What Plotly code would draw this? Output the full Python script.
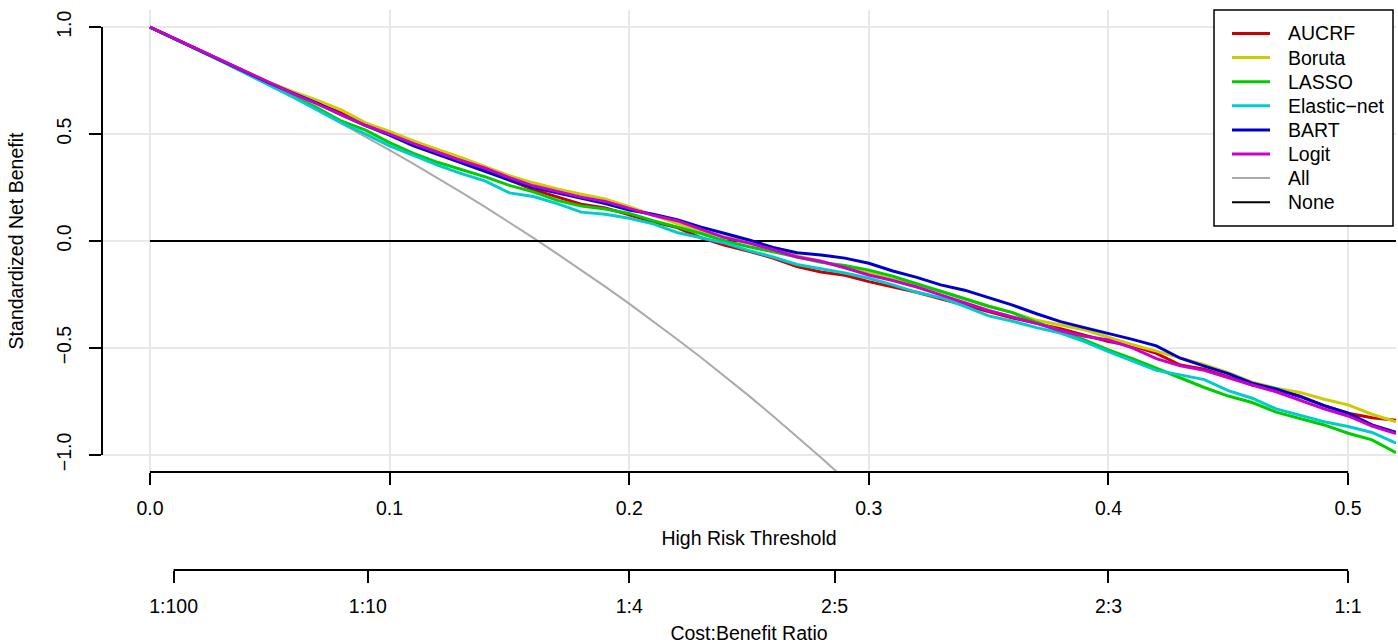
import plotly.graph_objects as go

thresholds = [0.00, 0.01, 0.02, 0.03, 0.04, 0.05, 0.06, 0.07, 0.08, 0.09,
              0.10, 0.11, 0.12, 0.13, 0.14, 0.15, 0.16, 0.17, 0.18, 0.19,
              0.20, 0.21, 0.22, 0.23, 0.24, 0.25, 0.26, 0.27, 0.28, 0.29,
              0.30, 0.31, 0.32, 0.33, 0.34, 0.35, 0.36, 0.37, 0.38, 0.39,
              0.40, 0.41, 0.42, 0.43, 0.44, 0.45, 0.46, 0.47, 0.48, 0.49,
              0.50, 0.51, 0.52]

aucrf = [1.000, 0.948, 0.895, 0.842, 0.789, 0.738, 0.690, 0.645, 0.598, 0.545,
         0.500, 0.460, 0.420, 0.380, 0.335, 0.285, 0.240, 0.205, 0.172, 0.155,
         0.122, 0.090, 0.063, 0.015, -0.020, -0.048, -0.080, -0.120, -0.145, -0.160,
         -0.190, -0.215, -0.240, -0.270, -0.300, -0.330, -0.360, -0.385, -0.410, -0.440,
         -0.470, -0.490, -0.525, -0.580, -0.600, -0.635, -0.673, -0.692, -0.725, -0.770,
         -0.805, -0.826, -0.838]

boruta = [1.000, 0.948, 0.895, 0.843, 0.791, 0.741, 0.697, 0.657, 0.612, 0.552,
          0.512, 0.468, 0.428, 0.390, 0.348, 0.305, 0.272, 0.243, 0.219, 0.197,
          0.160, 0.120, 0.082, 0.045, 0.020, -0.005, -0.030, -0.070, -0.095, -0.125,
          -0.150, -0.180, -0.205, -0.235, -0.270, -0.305, -0.335, -0.370, -0.393, -0.415,
          -0.450, -0.485, -0.515, -0.545, -0.578, -0.615, -0.660, -0.688, -0.708, -0.740,
          -0.766, -0.810, -0.845]

lasso = [1.000, 0.948, 0.895, 0.841, 0.786, 0.731, 0.676, 0.622, 0.560, 0.518,
         0.460, 0.410, 0.368, 0.335, 0.300, 0.260, 0.230, 0.190, 0.164, 0.150,
         0.129, 0.095, 0.065, 0.035, 0.000, -0.027, -0.050, -0.075, -0.100, -0.115,
         -0.136, -0.165, -0.200, -0.237, -0.270, -0.305, -0.335, -0.380, -0.420, -0.462,
         -0.509, -0.550, -0.595, -0.640, -0.685, -0.725, -0.755, -0.800, -0.830, -0.860,
         -0.899, -0.930, -0.990]

elastic_net = [1.000, 0.948, 0.894, 0.840, 0.784, 0.729, 0.671, 0.612, 0.552, 0.500,
               0.445, 0.400, 0.355, 0.315, 0.280, 0.225, 0.208, 0.175, 0.135, 0.125,
               0.106, 0.080, 0.040, 0.015, -0.010, -0.045, -0.075, -0.110, -0.130, -0.150,
               -0.174, -0.205, -0.240, -0.265, -0.305, -0.350, -0.375, -0.405, -0.430, -0.470,
               -0.517, -0.560, -0.605, -0.626, -0.648, -0.700, -0.735, -0.785, -0.815, -0.845,
               -0.867, -0.895, -0.945]

bart = [1.000, 0.948, 0.895, 0.842, 0.789, 0.738, 0.690, 0.643, 0.590, 0.540,
        0.495, 0.445, 0.405, 0.365, 0.325, 0.285, 0.250, 0.225, 0.200, 0.175,
        0.145, 0.125, 0.100, 0.065, 0.035, 0.005, -0.030, -0.055, -0.065, -0.080,
        -0.104, -0.140, -0.170, -0.205, -0.230, -0.265, -0.300, -0.340, -0.377, -0.405,
        -0.432, -0.460, -0.490, -0.548, -0.585, -0.620, -0.665, -0.692, -0.728, -0.770,
        -0.805, -0.860, -0.895]

logit = [1.000, 0.948, 0.895, 0.842, 0.789, 0.738, 0.688, 0.640, 0.589, 0.540,
         0.500, 0.455, 0.415, 0.375, 0.340, 0.296, 0.258, 0.230, 0.205, 0.185,
         0.153, 0.120, 0.095, 0.055, 0.015, -0.010, -0.040, -0.075, -0.095, -0.125,
         -0.159, -0.185, -0.215, -0.252, -0.290, -0.325, -0.355, -0.385, -0.420, -0.445,
         -0.463, -0.500, -0.550, -0.584, -0.605, -0.640, -0.673, -0.705, -0.745, -0.785,
         -0.818, -0.865, -0.900]

treat_all = [1.000, 0.948, 0.894, 0.840, 0.784, 0.728, 0.670, 0.611, 0.550, 0.488,
             0.425, 0.361, 0.295, 0.227, 0.158, 0.087, 0.015, -0.060, -0.136, -0.213,
             -0.293, -0.375, -0.459, -0.545, -0.634, -0.724, -0.818, -0.913, -1.012, -1.113]

treat_none = [0.0] * len(thresholds)

legend_names = ["AUCRF", "Boruta", "LASSO", "Elastic\u2212net", "BART", "Logit", "All", "None"]
legend_colors = ["#CC0000", "#CCCC00", "#00CC00", "#00CCCC", "#0000CC", "#CC00CC", "#AAAAAA", "#000000"]

x_ticks = [0.0, 0.1, 0.2, 0.3, 0.4, 0.5]
x_ticklabels = ["0.0", "0.1", "0.2", "0.3", "0.4", "0.5"]
y_ticks = [-1.0, -0.5, 0.0, 0.5, 1.0]
y_ticklabels = ["\u22121.0", "\u22120.5", "0.0", "0.5", "1.0"]
cb_ticks = [1 / 101, 1 / 11, 0.2, 2 / 7, 0.4, 0.5]
cb_ticklabels = ["1:100", "1:10", "1:4", "2:5", "2:3", "1:1"]

FONT = "Liberation Sans, Arial, Helvetica, sans-serif"
FS = 19.5

FIG_W, FIG_H = 1398, 644
PLOT_L, PLOT_R, PLOT_T, PAPER_B = 102, 1396, 10, 570   # page pixels
ML, MR, MT, MB = PLOT_L, FIG_W - PLOT_R, PLOT_T, FIG_H - PAPER_B
PW, PH = PLOT_R - PLOT_L, PAPER_B - PLOT_T
Y_DOM_BOTTOM = (PAPER_B - 472) / PH


def px(x):
    return (x - PLOT_L) / PW


def py(y):
    return (PAPER_B - y) / PH


fig = go.Figure()

fig.add_trace(go.Scatter(x=thresholds[:len(treat_all)], y=treat_all, mode="lines",
                         name="All", line=dict(color=legend_colors[6], width=2),
                         showlegend=False))
fig.add_trace(go.Scatter(x=thresholds, y=treat_none, mode="lines",
                         name="None", line=dict(color=legend_colors[7], width=2),
                         showlegend=False))

model_values = [aucrf, boruta, lasso, elastic_net, bart, logit]
for name, vals, color in zip(legend_names[:6], model_values, legend_colors[:6]):
    fig.add_trace(go.Scatter(x=thresholds, y=vals, mode="lines", name=name,
                             line=dict(color=color, width=3), showlegend=False))

# invisible trace so the cost:benefit axis gets drawn
fig.add_trace(go.Scatter(x=[0.0, 0.5], y=[-5, -5], xaxis="x2", mode="lines",
                         line=dict(color="rgba(0,0,0,0)"), showlegend=False,
                         hoverinfo="skip"))

x_range = [-0.02, 0.52]
y_range = [-1.08, 1.08]

shapes = [
    dict(type="line", xref="paper", yref="y", x0=0, x1=0, y0=-1, y1=1,
         line=dict(color="black", width=2)),
    dict(type="line", xref="x", yref="paper", x0=0, x1=0.5,
         y0=Y_DOM_BOTTOM, y1=Y_DOM_BOTTOM, line=dict(color="black", width=2)),
    dict(type="line", xref="x", yref="paper", x0=cb_ticks[0], x1=cb_ticks[-1],
         y0=0, y1=0, line=dict(color="black", width=2)),
    # legend box
    dict(type="rect", xref="paper", yref="paper", x0=px(1214), x1=px(1393),
         y0=py(226), y1=py(10), line=dict(color="black", width=1.5),
         fillcolor="white", layer="above"),
]
annotations = []
for i, (name, color) in enumerate(zip(legend_names, legend_colors)):
    yy = 33.5 + 24.1 * i
    shapes.append(dict(type="line", xref="paper", yref="paper",
                       x0=px(1232), x1=px(1270), y0=py(yy), y1=py(yy),
                       line=dict(color=color, width=3 if i < 6 else 2),
                       layer="above"))
    annotations.append(dict(text=name, xref="paper", yref="paper",
                            x=px(1286), y=py(yy), xanchor="left", yanchor="middle",
                            showarrow=False,
                            font=dict(family=FONT, size=FS, color="black")))

fig.update_layout(
    width=FIG_W, height=FIG_H,
    margin=dict(l=ML, r=MR, t=MT, b=MB, autoexpand=False),
    paper_bgcolor="white", plot_bgcolor="white",
    font=dict(family=FONT, size=FS, color="black"),
    showlegend=False,
    xaxis=dict(range=x_range, tickvals=x_ticks, ticktext=x_ticklabels,
               showgrid=True, gridcolor="#E8E8E8", gridwidth=1.5,
               zeroline=False, showline=False, ticks="outside", ticklen=12,
               tickwidth=1.5, tickcolor="black", ticklabelstandoff=7,
               anchor="y", automargin=False,
               title=dict(text="High Risk Threshold", standoff=12,
                          font=dict(family=FONT, size=FS))),
    xaxis2=dict(range=x_range, overlaying="x", anchor="free", position=0,
                side="bottom", tickvals=cb_ticks, ticktext=cb_ticklabels,
                showgrid=False, zeroline=False, showline=False,
                ticks="outside", ticklen=12, tickwidth=1.5, tickcolor="black",
                ticklabelstandoff=7, automargin=False,
                title=dict(text="Cost:Benefit Ratio", standoff=10,
                           font=dict(family=FONT, size=FS))),
    yaxis=dict(range=y_range, domain=[Y_DOM_BOTTOM, 1], tickvals=y_ticks,
               ticktext=y_ticklabels, tickangle=-90,
               showgrid=True, gridcolor="#E8E8E8", gridwidth=1.5,
               zeroline=False, showline=False, ticks="outside", ticklen=12,
               tickwidth=1.5, tickcolor="black", ticklabelstandoff=10,
               automargin=False,
               title=dict(text="Standardized Net Benefit", standoff=24,
                          font=dict(family=FONT, size=FS))),
    shapes=shapes,
    annotations=annotations,
)

fig.write_html("out.html",
               config={"displayModeBar": False},
               post_script="document.body.style.margin='0';"
                           "document.body.style.overflow='hidden';")
